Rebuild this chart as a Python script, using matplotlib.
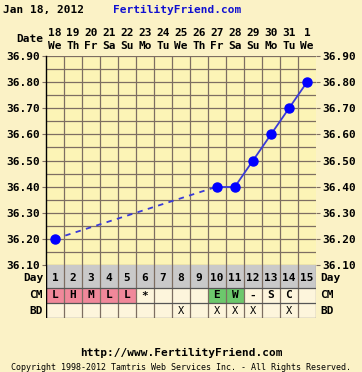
import matplotlib
matplotlib.use("Agg")
import matplotlib.pyplot as plt
import numpy as np

# ---- data ----
days = list(range(1, 16))
dates = ["18", "19", "20", "21", "22", "23", "24", "25", "26", "27", "28", "29", "30", "31", "1"]
weekdays = ["We", "Th", "Fr", "Sa", "Su", "Mo", "Tu", "We", "Th", "Fr", "Sa", "Su", "Mo", "Tu", "We"]
temps = [36.20, None, None, None, None, None, None, None, None, 36.40, 36.40, 36.50, 36.60, 36.70, 36.80]
cm = ["L", "H", "M", "L", "L", "*", "", "", "", "E", "W", "-", "S", "C", ""]
bd = ["", "", "", "", "", "", "", "X", "", "X", "X", "X", "", "X", ""]
y_ticks = [36.10, 36.20, 36.30, 36.40, 36.50, 36.60, 36.70, 36.80, 36.90]
title_date = "Jan 18, 2012"
site = "FertilityFriend.com"
url = "http://www.FertilityFriend.com"
copyright_text = "Copyright 1998-2012 Tamtris Web Services Inc. - All Rights Reserved."

# ---- style ----
W, H = 362, 372
BG = "#fbf2c6"
PLOT_BG = "#fcf4b6"
CELL_BG = "#fdf5dc"
GRID = "#7d6e62"
PINK = "#f0889a"
GREEN = "#6cc86c"
GRAY = "#c9c9c9"
FONT = "DejaVu Sans Mono"
FS = 8.0

fig = plt.figure(figsize=(W / 100, H / 100), dpi=100, facecolor=BG)

def fx(px):
    return px / W

def fy(py):
    return 1 - py / H

L, R, T, B = 46, 316, 56, 265
ax = fig.add_axes([fx(L), fy(B), fx(R) - fx(L), fy(T) - fy(B)])
ax.set_facecolor(PLOT_BG)
ax.set_xlim(0.5, 15.5)
ax.set_ylim(36.10, 36.90)
for v in np.arange(36.10, 36.901, 0.05):
    ax.axhline(v, color=GRID, lw=0.9, zorder=1)
for d in range(1, 15):
    ax.axvline(d + 0.5, color=GRID, lw=0.9, zorder=1)
ax.set_xticks([])
ax.set_yticks(y_ticks)
ax.set_yticklabels([f"{v:.2f}" for v in y_ticks], fontfamily=FONT, fontweight="bold", fontsize=FS)
ax.tick_params(axis="y", which="both", left=True, right=True, labelleft=True, labelright=True,
               length=3, color=GRID, pad=1.5)
for s in ["top", "right", "bottom"]:
    ax.spines[s].set_visible(False)
ax.spines["left"].set_color("black")
ax.spines["left"].set_linewidth(1.0)

# lines
pts = [(d, t) for d, t in zip(days, temps) if t is not None]
for (d1, t1), (d2, t2) in zip(pts[:-1], pts[1:]):
    style = "-" if d2 - d1 == 1 else (0, (3, 3))
    ax.plot([d1, d2], [t1, t2], color="#3a3ad8", lw=1.3, linestyle=style, zorder=3)
ax.plot([p[0] for p in pts], [p[1] for p in pts], "o", color="#0000ff", ms=6.5, zorder=4)

# ---- table ----
TB = 318
tax = fig.add_axes([fx(L), fy(TB), fx(R) - fx(L), fy(B) - fy(TB)])
tax.set_xlim(0.5, 15.5)
tax.set_ylim(TB, B)
tax.axis("off")
rows = [(265, 288), (288, 303), (303, 318)]
for i, d in enumerate(days):
    x0 = d - 0.5
    tax.add_patch(plt.Rectangle((x0, rows[0][0]), 1, rows[0][1] - rows[0][0], facecolor=GRAY, edgecolor="none"))
    c = cm[i]
    col = PINK if c in ("L", "H", "M") else (GREEN if c in ("E", "W") else CELL_BG)
    tax.add_patch(plt.Rectangle((x0, rows[1][0]), 1, rows[1][1] - rows[1][0], facecolor=col, edgecolor="none"))
    tax.add_patch(plt.Rectangle((x0, rows[2][0]), 1, rows[2][1] - rows[2][0], facecolor=CELL_BG, edgecolor="none"))
    tax.text(d, (rows[0][0] + rows[0][1]) / 2 + 1.5, str(d), ha="center", va="center",
             fontfamily=FONT, fontweight="bold", fontsize=FS)
    tax.text(d, (rows[1][0] + rows[1][1]) / 2, c, ha="center", va="center",
             fontfamily=FONT, fontweight="bold", fontsize=FS)
    tax.text(d, (rows[2][0] + rows[2][1]) / 2, bd[i], ha="center", va="center",
             fontfamily=FONT, fontsize=FS - 0.5)
for d in range(0, 16):
    tax.plot([d + 0.5, d + 0.5], [265, 318], color=GRID, lw=0.9)
for yb in [288, 303, 318]:
    tax.plot([0.5, 15.5], [yb, yb], color="#555555", lw=0.9)
tax.plot([0.5, 0.5], [265, 318], color="black", lw=1.0)

# row labels
for lbl, (y0, y1) in zip(["Day", "CM", "BD"], rows):
    yc = (y0 + y1) / 2 + (1.5 if lbl == "Day" else 0)
    fig.text(fx(43), fy(yc), lbl, ha="right", va="center", fontfamily=FONT, fontweight="bold", fontsize=FS)
    fig.text(fx(320), fy(yc), lbl, ha="left", va="center", fontfamily=FONT, fontweight="bold", fontsize=FS)

# header
for d, dt, wd in zip(days, dates, weekdays):
    xc = fx(L + (d - 0.5) * 18)
    fig.text(xc, fy(33), dt, ha="center", va="center", fontfamily=FONT, fontweight="bold", fontsize=FS)
    fig.text(xc, fy(46), wd, ha="center", va="center", fontfamily=FONT, fontweight="bold", fontsize=FS)
fig.text(fx(43), fy(39), "Date", ha="right", va="center", fontfamily=FONT, fontweight="bold", fontsize=FS)

fig.text(fx(3), fy(10), title_date, ha="left", va="center", fontfamily=FONT, fontweight="bold", fontsize=FS)
fig.text(fx(113), fy(10), site, ha="left", va="center", fontfamily=FONT, fontweight="bold", fontsize=FS,
         color="#1010d0")
fig.text(0.5, fy(353), url, ha="center", va="center", fontfamily=FONT, fontweight="bold", fontsize=FS)
fig.text(0.5, fy(367), copyright_text, ha="center", va="center", fontfamily=FONT, fontsize=6.0)

fig.savefig("out.png", dpi=100, facecolor=BG)
